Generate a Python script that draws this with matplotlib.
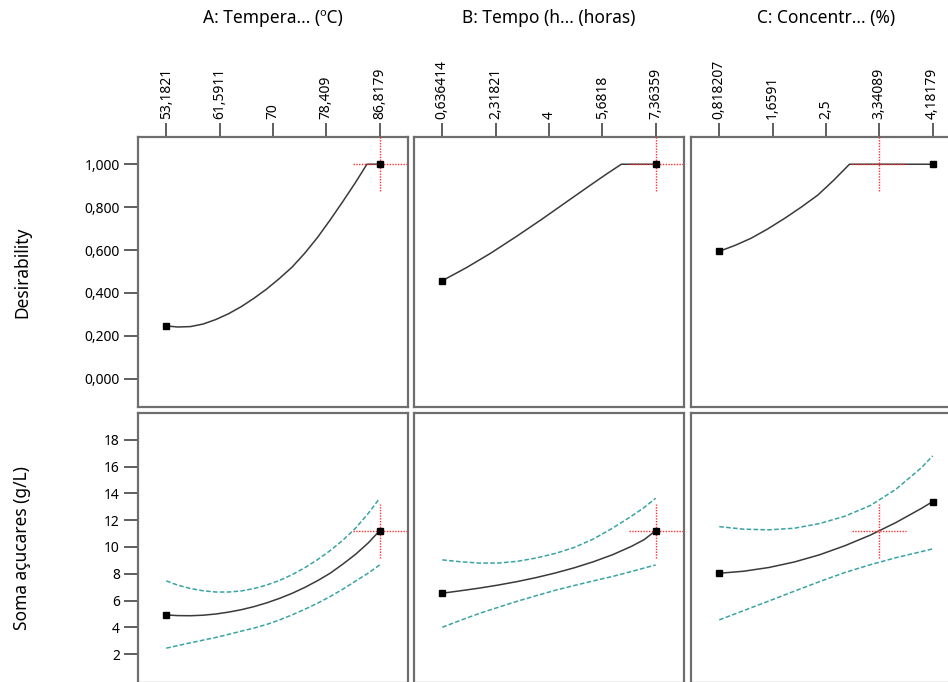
import matplotlib
matplotlib.use("Agg")
import matplotlib.pyplot as plt

plt.rcParams['font.family'] = ['Noto Sans', 'DejaVu Sans']

# ---------------- data ----------------
titles = ["A: Tempera... (ºC)", "B: Tempo (h... (horas)", "C: Concentr... (%)"]
row_labels = ["Desirability", "Soma açucares (g/L)"]

x_ticks = [
    [53.1821, 61.5911, 70, 78.409, 86.8179],
    [0.636414, 2.31821, 4, 5.6818, 7.36359],
    [0.818207, 1.6591, 2.5, 3.34089, 4.18179],
]
x_ticklabels = [
    ["53,1821", "61,5911", "70", "78,409", "86,8179"],
    ["0,636414", "2,31821", "4", "5,6818", "7,36359"],
    ["0,818207", "1,6591", "2,5", "3,34089", "4,18179"],
]
current = [86.8179, 7.36359, 3.34089]

des_ticks = [0.0, 0.2, 0.4, 0.6, 0.8, 1.0]
des_ticklabels = ["0,000", "0,200", "0,400", "0,600", "0,800", "1,000"]
soma_ticks = [2, 4, 6, 8, 10, 12, 14, 16, 18]

# desirability curves (x, d)
desA_x = [53.1821, 55, 57, 59, 61, 63, 65, 67, 69, 71, 73, 75, 77, 79, 81, 83, 84.8, 86.8179]
desA_y = [0.246, 0.241, 0.243, 0.255, 0.276, 0.303, 0.336, 0.375, 0.418, 0.467, 0.520,
          0.585, 0.658, 0.740, 0.826, 0.915, 1.0, 1.0]
desB_x = [0.636414, 1.4, 2.16, 2.95, 3.74, 4.5, 5.31, 5.8, 6.28, 7.36359]
desB_y = [0.457, 0.518, 0.585, 0.661, 0.740, 0.819, 0.903, 0.953, 1.0, 1.0]
desC_x = [0.818207, 1.07, 1.32, 1.58, 1.85, 2.11, 2.37, 2.62, 2.87, 4.18179]
desC_y = [0.594, 0.622, 0.655, 0.698, 0.748, 0.800, 0.856, 0.925, 1.0, 1.0]
des_x = [desA_x, desB_x, desC_x]
des_y = [desA_y, desB_y, desC_y]
des_current = [1.0, 1.0, 1.0]

# response curves: prediction, upper and lower CI
somaA_x = [53.1821, 55, 57, 59, 61, 63, 65, 67, 69, 71, 73, 75, 77, 79, 81, 83, 85, 86.8179]
somaA_y = [4.93, 4.88, 4.87, 4.91, 5.00, 5.14, 5.32, 5.55, 5.83, 6.16, 6.54, 6.98,
           7.48, 8.04, 8.72, 9.45, 10.30, 11.22]
somaA_hi = [7.47, 7.15, 6.90, 6.73, 6.64, 6.64, 6.72, 6.90, 7.16, 7.50, 7.93, 8.45,
            9.05, 9.73, 10.50, 11.40, 12.50, 13.64]
somaA_lo = [2.45, 2.64, 2.85, 3.05, 3.25, 3.48, 3.72, 3.95, 4.22, 4.55, 4.93, 5.35,
            5.80, 6.30, 6.85, 7.45, 8.05, 8.66]

somaB_x = [0.636414, 1.2, 1.8, 2.4, 3.0, 3.6, 4.2, 4.8, 5.4, 6.0, 6.6, 7.0, 7.36359]
somaB_y = [6.55, 6.73, 6.93, 7.16, 7.42, 7.72, 8.06, 8.45, 8.90, 9.42, 10.05, 10.55, 11.22]
somaB_hi = [9.04, 8.90, 8.80, 8.80, 8.93, 9.18, 9.52, 9.97, 10.60, 11.40, 12.30, 12.95, 13.64]
somaB_lo = [4.01, 4.52, 5.04, 5.50, 5.95, 6.37, 6.77, 7.13, 7.47, 7.80, 8.17, 8.43, 8.66]

somaC_x = [0.818207, 1.2, 1.6, 2.0, 2.4, 2.8, 3.2, 3.6, 4.0, 4.18179]
somaC_y = [8.04, 8.19, 8.47, 8.88, 9.42, 10.10, 10.89, 11.82, 12.87, 13.39]
somaC_hi = [11.52, 11.33, 11.28, 11.40, 11.75, 12.30, 13.10, 14.30, 15.90, 16.80]
somaC_lo = [4.56, 5.25, 5.97, 6.70, 7.42, 8.10, 8.68, 9.20, 9.65, 9.86]

soma_x = [somaA_x, somaB_x, somaC_x]
soma_y = [somaA_y, somaB_y, somaC_y]
soma_hi = [somaA_hi, somaB_hi, somaC_hi]
soma_lo = [somaA_lo, somaB_lo, somaC_lo]
soma_current = [11.2, 11.2, 11.2]

# ---------------- layout ----------------
W, H = 948, 682
fig = plt.figure(figsize=(W / 100, H / 100), dpi=100)
fig.patch.set_facecolor('white')

col_left = [138, 414, 691]
row_top = [137, 413]
pw, ph = 270, 270

frame_col = '#6e6e6e'
curve_col = '#3a3a3a'
ci_col = '#3aa3a3'
red = '#ff3030'
tick_col = '#333333'

def make_ax(r, c):
    l = col_left[c] / W
    b = (H - row_top[r] - ph) / H
    ax = fig.add_axes([l, b, pw / W, ph / H])
    for s in ax.spines.values():
        s.set_color(frame_col)
        s.set_linewidth(1.6)
    return ax

def crosshair(ax, x, y, step, yrange):
    dx = 27.0 / 53.4 * step
    dy = 27.0 / pw * yrange
    ax.plot([x - dx, x + dx], [y, y], color=red, lw=1.0, ls=(0, (1, 1)), zorder=4, clip_on=True)
    ax.plot([x, x], [y - dy, y + dy], color=red, lw=1.0, ls=(0, (1, 1)), zorder=4, clip_on=True)

for c in range(3):
    ticks = x_ticks[c]
    step = ticks[1] - ticks[0]
    mid = ticks[2]
    half = 2.53 * step
    xlim = (mid - half, mid + half)

    # ---- desirability row ----
    ax = make_ax(0, c)
    ax.set_xlim(*xlim)
    ylim0 = (-0.132, 1.127)
    ax.set_ylim(*ylim0)
    ax.plot(des_x[c], des_y[c], color=curve_col, lw=1.1, zorder=3)
    ax.plot([des_x[c][0], des_x[c][-1]], [des_y[c][0], des_y[c][-1]], ls='none',
            marker='s', ms=4.5, color='black', zorder=5)
    crosshair(ax, current[c], des_current[c], step, ylim0[1] - ylim0[0])
    ax.xaxis.tick_top()
    ax.set_xticks(ticks)
    ax.set_xticklabels(x_ticklabels[c], rotation=90, fontsize=10)
    ax.tick_params(axis='x', direction='out', length=10, width=1.1, color=tick_col,
                   pad=3, labelcolor='black')
    if c == 0:
        ax.set_yticks(des_ticks)
        ax.set_yticklabels(des_ticklabels, fontsize=10)
        ax.tick_params(axis='y', direction='out', length=10, width=1.1, color=tick_col, pad=3)
    else:
        ax.set_yticks([])
    ax.annotate(titles[c], xy=(mid, 1 - 18 / H), xycoords=('data', 'figure fraction'),
                ha='center', va='center', fontsize=12.5, annotation_clip=False)

    # ---- response row ----
    ax2 = make_ax(1, c)
    ax2.set_xlim(*xlim)
    ylim1 = (-0.15, 20.0)
    ax2.set_ylim(*ylim1)
    ax2.plot(soma_x[c], soma_hi[c], color=ci_col, lw=1.1, ls=(0, (3, 1.5)), zorder=2)
    ax2.plot(soma_x[c], soma_lo[c], color=ci_col, lw=1.1, ls=(0, (3, 1.5)), zorder=2)
    ax2.plot(soma_x[c], soma_y[c], color=curve_col, lw=1.1, zorder=3)
    ax2.plot([soma_x[c][0], soma_x[c][-1]], [soma_y[c][0], soma_y[c][-1]], ls='none',
             marker='s', ms=4.5, color='black', zorder=5)
    crosshair(ax2, current[c], soma_current[c], step, ylim1[1] - ylim1[0])
    ax2.set_xticks([])
    if c == 0:
        ax2.set_yticks(soma_ticks)
        ax2.set_yticklabels([str(t) for t in soma_ticks], fontsize=10)
        ax2.tick_params(axis='y', direction='out', length=10, width=1.1, color=tick_col, pad=3)
    else:
        ax2.set_yticks([])

fig.text(22 / W, 1 - 272 / H, row_labels[0], rotation=90, ha='center', va='center', fontsize=12.5)
fig.text(22 / W, 1 - 548 / H, row_labels[1], rotation=90, ha='center', va='center', fontsize=12.5)

fig.savefig('out.png', dpi=100, facecolor='white')
